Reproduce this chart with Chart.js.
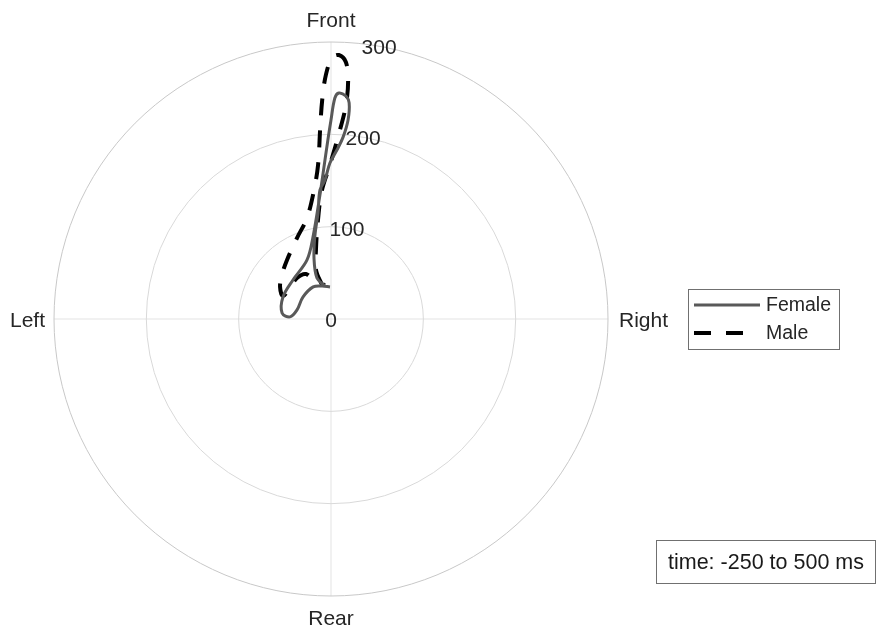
<!DOCTYPE html>
<html>
<head>
<meta charset="utf-8">
<script src="https://cdn.jsdelivr.net/npm/chart.js@4/dist/chart.umd.min.js"></script>
<style>
  html, body { margin: 0; padding: 0; background: #fff; }
  #wrap { width: 877px; height: 628px; position: relative; }
</style>
</head>
<body>
<div id="wrap"><canvas id="polarChart"></canvas></div>
<script>
// ---- data (theta in degrees clockwise from Front, rho in plot units) ----
const femaleTheta = [-10.3, -18.9, -15.6, -10.8, -7, -4.9, -2.5, -0.4, 2, 3.8, 4.9, 4.8, 3.8, 2, 1, 0, -1, -3.1, -5.1,
                     -12.4, -22.1, -44.3, -65.4, -83, -87, -75, -52, -29, -15, -1.8];
const femaleRho   = [36.3, 46.9, 68.5, 92.6, 115.7, 140.2, 150.6, 169, 183.1, 197.4, 216.3, 234.8, 242, 244.9, 239.4, 215.5, 193.9, 158.2, 134.8,
                     90.9, 69, 59, 57.2, 53.4, 44.4, 38.1, 38.6, 39.8, 37, 34.7];

const maleTheta = [-14.8, -17, -12.3, -7.5, -4, -0.4, 2.7, 4, 4.1, 3.3, 1.7, 0.2, -1.2, -2.3, -3.3, -4.8, -7.5,
                   -13.4, -22.8, -36.7, -48.1, -57.8, -64.4, -54.5, -39.7, -29.1, -23.3, -10];
const maleRho   = [38.1, 55.5, 76.5, 108.1, 140, 166.8, 204.9, 232.4, 259.5, 278.8, 286, 282.7, 264.4, 237.4, 205, 167.4, 140.9,
                   112.4, 95.1, 79.7, 71.4, 65.2, 57.7, 55.9, 57.7, 55.7, 43.7, 37.4];

const rTicks = [0, 100, 200, 300];
const thetaLabels = ['Front', 'Right', 'Rear', 'Left'];
const thetaLabelAngles = [0, 90, 180, 270];
const seriesNames = ['Female', 'Male'];
const timeNote = 'time: -250 to 500 ms';

const RMAX = 300;
const FONT = '"Liberation Sans", Arial, sans-serif';

// polar -> cartesian points for the scatter scales
function toXY(theta, rho) {
    return theta.map((t, i) => {
        const a = t * Math.PI / 180;
        return { x: rho[i] * Math.sin(a), y: rho[i] * Math.cos(a) };
    });
}

// polar grid, tick labels, legend and note box
const polarFrame = {
    id: 'polarFrame',
    beforeDatasetsDraw(chart) {
        const ctx = chart.ctx;
        const xs = chart.scales.x, ys = chart.scales.y;
        const cx = xs.getPixelForValue(0), cy = ys.getPixelForValue(0);
        const R = xs.getPixelForValue(RMAX) - cx;
        ctx.save();

        // spokes
        ctx.strokeStyle = '#e3e3e3';
        ctx.lineWidth = 1;
        thetaLabelAngles.forEach(deg => {
            const a = deg * Math.PI / 180;
            ctx.beginPath();
            ctx.moveTo(cx, cy);
            ctx.lineTo(cx + R * Math.sin(a), cy - R * Math.cos(a));
            ctx.stroke();
        });

        // rings
        rTicks.forEach(v => {
            if (v === 0) return;
            const rr = xs.getPixelForValue(v) - cx;
            ctx.strokeStyle = v === RMAX ? '#c8c8c8' : '#d9d9d9';
            ctx.beginPath();
            ctx.arc(cx, cy, rr, 0, Math.PI * 2);
            ctx.stroke();
        });

        // r tick labels along 10 deg
        ctx.fillStyle = '#262626';
        ctx.font = '21px ' + FONT;
        ctx.textAlign = 'center';
        ctx.textBaseline = 'middle';
        const la = 10 * Math.PI / 180;
        rTicks.forEach(v => {
            const rr = xs.getPixelForValue(v) - cx;
            ctx.fillText(String(v), cx + rr * Math.sin(la), cy - rr * Math.cos(la) + 2);
        });

        // theta labels
        thetaLabels.forEach((lab, i) => {
            const a = thetaLabelAngles[i] * Math.PI / 180;
            const off = 28;
            let x = cx + (R + off) * Math.sin(a);
            let y = cy - (R + off) * Math.cos(a);
            ctx.textAlign = 'center';
            if (thetaLabelAngles[i] === 90) { ctx.textAlign = 'left'; x = cx + R + 11; }
            if (thetaLabelAngles[i] === 270) { ctx.textAlign = 'right'; x = cx - R - 9; }
            if (thetaLabelAngles[i] === 0) y = cy - R - 23;
            if (thetaLabelAngles[i] === 180) y = cy + R + 21;
            ctx.fillText(lab, x, y + 2);
        });
        ctx.restore();
    },
    afterDraw(chart) {
        const ctx = chart.ctx;
        ctx.save();

        // legend
        ctx.fillStyle = '#fff';
        ctx.strokeStyle = '#707070';
        ctx.lineWidth = 1;
        ctx.fillRect(688.5, 289.5, 151, 60);
        ctx.strokeRect(688.5, 289.5, 151, 60);
        chart.data.datasets.forEach((ds, i) => {
            const y = 305 + i * 28;
            ctx.strokeStyle = ds.borderColor;
            ctx.lineWidth = ds.borderWidth;
            ctx.setLineDash(ds.borderDash || []);
            ctx.beginPath();
            ctx.moveTo(694, y);
            ctx.lineTo(ds.borderDash ? 746 : 760, y);
            ctx.stroke();
            ctx.setLineDash([]);
            ctx.fillStyle = '#262626';
            ctx.font = '19.5px ' + FONT;
            ctx.textAlign = 'left';
            ctx.textBaseline = 'middle';
            ctx.fillText(seriesNames[i], 766, y + 1);
        });

        // time note
        ctx.strokeStyle = '#707070';
        ctx.lineWidth = 1;
        ctx.fillStyle = '#fff';
        ctx.fillRect(656.5, 540.5, 219, 43);
        ctx.strokeRect(656.5, 540.5, 219, 43);
        ctx.fillStyle = '#1a1a1a';
        ctx.font = '21.5px ' + FONT;
        ctx.textAlign = 'left';
        ctx.textBaseline = 'middle';
        ctx.fillText(timeNote, 668, 563);
        ctx.restore();
    }
};

new Chart(document.getElementById('polarChart'), {
    type: 'scatter',
    data: {
        datasets: [
            {
                label: seriesNames[0],
                data: toXY(femaleTheta, femaleRho),
                showLine: true,
                borderColor: '#595959',
                borderWidth: 3,
                pointRadius: 0,
                tension: 0.35
            },
            {
                label: seriesNames[1],
                data: toXY(maleTheta, maleRho),
                showLine: true,
                borderColor: '#000000',
                borderWidth: 4,
                borderDash: [17, 15],
                pointRadius: 0,
                tension: 0.35
            }
        ]
    },
    options: {
        responsive: true,
        maintainAspectRatio: false,
        animation: false,
        layout: { padding: { left: 54, right: 269, top: 42, bottom: 32 } },
        plugins: { legend: { display: false }, tooltip: { enabled: false } },
        scales: {
            x: { type: 'linear', min: -RMAX, max: RMAX, display: false },
            y: { type: 'linear', min: -RMAX, max: RMAX, display: false }
        }
    },
    plugins: [polarFrame]
});
</script>
</body>
</html>
